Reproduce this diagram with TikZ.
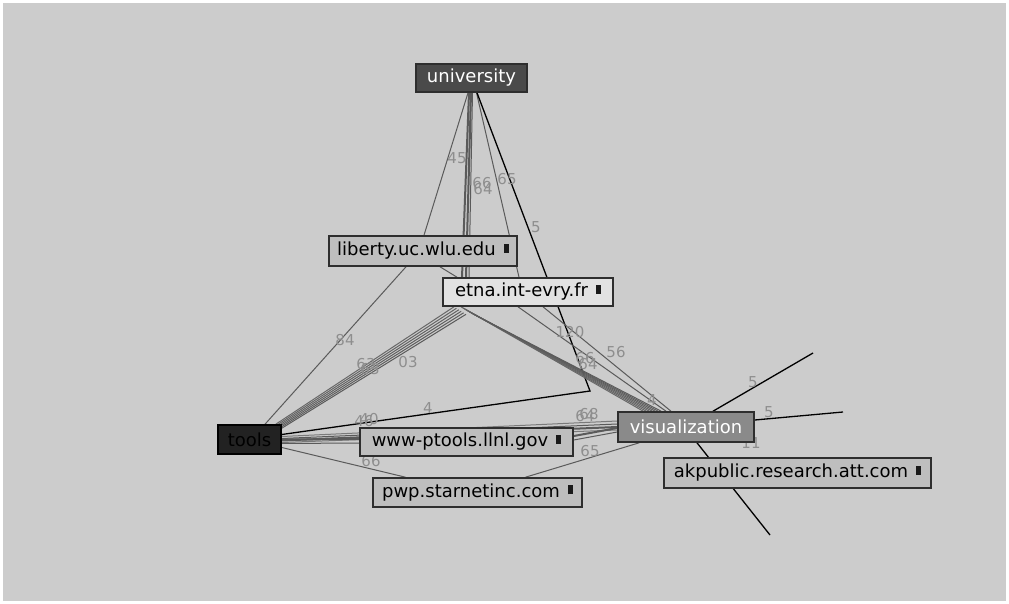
\documentclass[tikz,border=0pt]{standalone}
\usepackage{fontspec}
\setmainfont{DejaVu Sans}
\usetikzlibrary{calc}
\pgfdeclarelayer{bg}
\pgfdeclarelayer{edges}
\pgfsetlayers{bg,edges,main}
\definecolor{bgc}{HTML}{CCCCCC}
\definecolor{hostc}{HTML}{BEBEBE}
\definecolor{etnac}{HTML}{E2E2E2}
\definecolor{unic}{HTML}{4A4A4A}
\definecolor{toolc}{HTML}{222222}
\definecolor{visc}{HTML}{8A8A8A}
\definecolor{borderc}{HTML}{2E2E2E}
\definecolor{labc}{HTML}{8E8E8E}
\definecolor{linec}{HTML}{5A5A5A}
\definecolor{linel}{HTML}{7A7A7A}
\definecolor{sqc}{HTML}{1A1A1A}
\tikzset{
  box/.style={draw=borderc, line width=1.6pt, inner sep=0pt, font=\fontsize{18}{20}\selectfont},
  hostbox/.style={box, fill=hostc, text=black},
  catbox/.style={box, text=white},
  lnk/.style={draw=linec, line width=1pt},
  lnkl/.style={draw=linel, line width=1pt},
  lnkthick/.style={draw=linec, line width=2pt},
  lnkblack/.style={draw=black, line width=1.3pt},
  lab/.style={text=labc, font=\fontsize{15}{16}\selectfont, inner sep=0pt},
}
\newcommand{\sqmark}{\hspace{8pt}\textcolor{sqc}{\rule[3pt]{5pt}{9pt}}}
\begin{document}
\begin{tikzpicture}[x=1pt,y=-1pt]
\useasboundingbox (0,0) rectangle (1009,604);
\begin{pgfonlayer}{bg}
\fill[white] (0,0) rectangle (1009,604);
\fill[bgc] (3,3) rectangle (1006,601);
\end{pgfonlayer}

% nodes
\node[catbox, fill=unic, minimum width=111pt, minimum height=28pt] (uni) at (471.5,78) {university};
\node[hostbox, minimum width=188pt, minimum height=30pt] (lib) at (423,251) {liberty.uc.wlu.edu\sqmark};
\node[hostbox, fill=etnac, minimum width=170pt, minimum height=28pt] (etna) at (528,292) {etna.int-evry.fr\sqmark};
\node[box, fill=toolc, draw=black, text=black, minimum width=63pt, minimum height=29pt] (tools) at (249.5,439.5) {tools};
\node[hostbox, minimum width=213pt, minimum height=28pt] (www) at (466.5,442) {www-ptools.llnl.gov\sqmark};
\node[catbox, fill=visc, minimum width=136pt, minimum height=30pt] (vis) at (686,427) {visualization};
\node[hostbox, minimum width=267pt, minimum height=30pt] (ak) at (797.5,473) {akpublic.research.att.com\sqmark};
\node[hostbox, minimum width=209pt, minimum height=29pt] (pwp) at (477.5,492.5) {pwp.starnetinc.com\sqmark};

\coordinate (bend) at (590,391);
\coordinate (out1) at (813,353);
\coordinate (out2) at (843,412);
\coordinate (out3) at (770,535);

\begin{pgfonlayer}{edges}
% university - liberty
\draw[lnk] ($(uni.south)+(-3.5,0)$) -- ($(lib.north)+(1,0)$);
% liberty - tools
\draw[lnk] ($(lib.south)+(-17,0)$) -- ($(tools.north)+(15.5,0)$);
% liberty - etna
\draw[lnk] ($(lib.south)+(17,0)$) -- ($(etna.north)+(-71,0)$);
% university - etna bundle
\draw[lnkthick] ($(uni.south)+(-2.5,0)$) -- ($(etna.north)+(-66,0)$);
\draw[lnkthick] ($(uni.south)+(-0.5,0)$) -- ($(etna.north)+(-62,0)$);
\draw[lnk] ($(uni.south)+(1,0)$) -- ($(etna.north)+(-59,0)$);
% university - etna thin
\draw[lnk] ($(uni.south)+(5,0)$) -- ($(etna.north)+(-9,0)$);
% university - bend - tools (black)
\draw[lnkblack] ($(uni.south)+(5.5,0)$) -- (bend) -- ($(tools.east)+(0,-5)$);
% etna - visualization thin lines
\draw[lnk] ($(etna.south)+(-10,0)$) -- ($(vis.north)+(-20,0)$);
\draw[lnk] ($(etna.south)+(15,0)$) -- ($(vis.north)+(-15,0)$);
% etna - tools bundle
\foreach \i in {0,...,5} {
  \draw[lnk, draw=linec!\fpeval{60+8*\i}!linel] ($(etna.south)+(-74+2.4*\i,1.5*\i)$) -- ($(tools.north east)+(-6+1.2*\i,0.8*\i)$);
}
% etna - visualization bundle
\foreach \i in {0,...,6} {
  \draw[lnk, draw=linec!\fpeval{55+7*\i}!linel] ($(etna.south)+(-67+2*\i,1.2*\i)$) -- ($(vis.north west)+(26+3*\i,0)$);
}
% tools - visualization bundle
\draw[lnkl] ($(tools.east)+(0,-3)$) -- ($(vis.west)+(0,-6)$);
\draw[lnk] ($(tools.east)+(0,-1)$) -- ($(vis.west)+(0,-3)$);
\draw[lnkthick] ($(tools.east)+(0,1)$) -- ($(vis.west)+(0,0)$);
\draw[lnkl] ($(tools.east)+(0,3)$) -- ($(vis.west)+(0,3)$);
% tools - www, www - visualization
\draw[lnkthick] ($(tools.east)+(0,0)$) -- ($(www.west)+(0,-3)$);
\draw[lnk] ($(tools.east)+(0,4)$) -- ($(www.west)+(0,1)$);
\draw[lnkthick] ($(www.east)+(0,-6)$) -- ($(vis.west)+(0,1)$);
\draw[lnk] ($(www.east)+(0,-2)$) -- ($(vis.west)+(0,5)$);
% tools - pwp
\draw[lnk] ($(tools.east)+(0,8)$) -- ($(pwp.north)+(-72,0)$);
% pwp - visualization
\draw[lnk] ($(pwp.north)+(48,0)$) -- ($(vis.south west)+(22,0)$);
% visualization - outside
\draw[lnkblack] ($(vis.north)+(27,0)$) -- (out1);
\draw[lnkblack] ($(vis.east)+(0,-7)$) -- (out2);
\draw[lnkblack] ($(vis.south)+(11,0)$) -- (out3);

% labels
\node[lab] (l45) at (457,158) {45};
\node[lab] (l66a) at (482,183) {66};
\node[lab] (l64a) at (483,189) {64};
\node[lab] (l65a) at (507,179) {65};
\node[lab] (l5a) at (536,227) {5};
\node[lab] (l84) at (345,340) {84};
\node[lab] (l63a) at (366,364) {63};
\node[lab] (l63b) at (370,369) {63};
\node[lab] (l03) at (408,362) {03};
\node[lab] (l120) at (570,332) {120};
\node[lab] (l56) at (616,352) {56};
\node[lab] (l66b) at (585,358) {66};
\node[lab] (l64b) at (588,364) {64};
\node[lab] (l4b) at (652,400) {4};
\node[lab] (l4) at (428,408) {4};
\node[lab] (l46a) at (364,421) {46};
\node[lab] (l46b) at (369,419) {40};
\node[lab] (l64c) at (585,416) {64};
\node[lab] (l68c) at (589,414) {68};
\node[lab] (l66c) at (371,461) {66};
\node[lab] (l65b) at (590,451) {65};
\node[lab] (l5b) at (753,382) {5};
\node[lab] (l5c) at (769,412) {5};
\node[lab] (l11) at (751,443) {11};
\end{pgfonlayer}
\end{tikzpicture}
\end{document}
